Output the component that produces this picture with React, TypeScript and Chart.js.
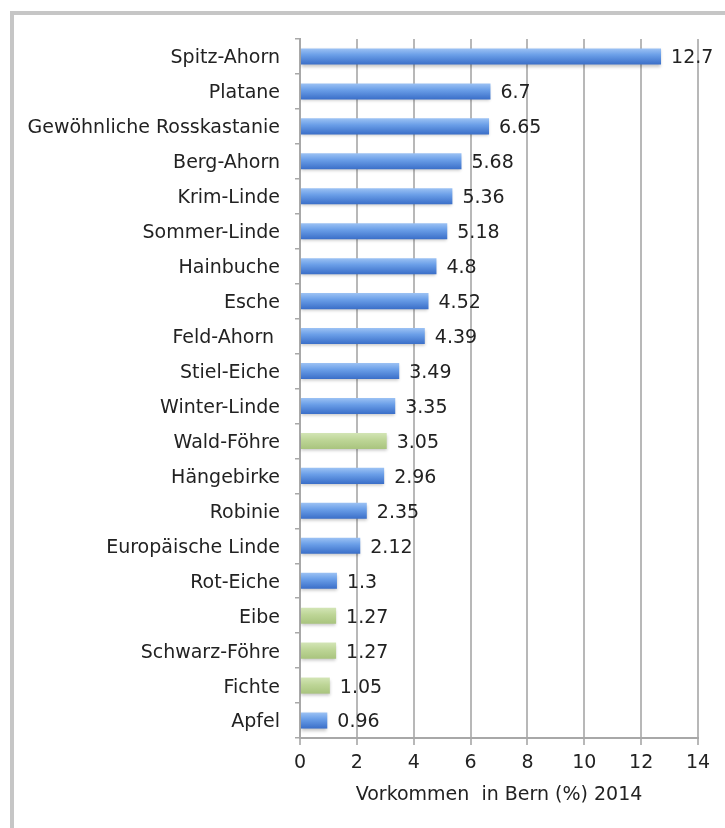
import React, { useEffect, useRef } from "react";
import { Chart, registerables } from "chart.js";

Chart.register(...registerables);

const categories = [
  "Spitz-Ahorn",
  "Platane",
  "Gewöhnliche Rosskastanie",
  "Berg-Ahorn",
  "Krim-Linde",
  "Sommer-Linde",
  "Hainbuche",
  "Esche",
  "Feld-Ahorn ",
  "Stiel-Eiche",
  "Winter-Linde",
  "Wald-Föhre",
  "Hängebirke",
  "Robinie",
  "Europäische Linde",
  "Rot-Eiche",
  "Eibe",
  "Schwarz-Föhre",
  "Fichte",
  "Apfel",
];

const values = [12.7, 6.7, 6.65, 5.68, 5.36, 5.18, 4.8, 4.52, 4.39, 3.49, 3.35, 3.05, 2.96, 2.35, 2.12, 1.3, 1.27, 1.27, 1.05, 0.96];

const valueLabels = ["12.7", "6.7", "6.65", "5.68", "5.36", "5.18", "4.8", "4.52", "4.39", "3.49", "3.35", "3.05", "2.96", "2.35", "2.12", "1.3", "1.27", "1.27", "1.05", "0.96"];

// "N" = Nadelbaum (green), "L" = Laubbaum (blue)
const treeType = ["L", "L", "L", "L", "L", "L", "L", "L", "L", "L", "L", "N", "L", "L", "L", "L", "N", "N", "N", "L"];

const xMin = 0;
const xMax = 14;
const xStep = 2;
const axisTitle = "Vorkommen  in Bern (%) 2014";

const FONT = "'DejaVu Sans', sans-serif";
const FSIZE = 19;
const TEXT = "#222222";
const BAR_PCT = 0.46;

const valueLabelPlugin = {
  id: "valueLabels",
  afterDatasetsDraw(chart: any) {
    const ctx = chart.ctx;
    const meta = chart.getDatasetMeta(0);
    ctx.save();
    ctx.font = `${FSIZE}px ${FONT}`;
    ctx.fillStyle = TEXT;
    ctx.textAlign = "left";
    ctx.textBaseline = "middle";
    meta.data.forEach((el: any, i: number) => {
      ctx.fillText(valueLabels[i], el.x + 10, el.y + 2);
    });
    ctx.restore();
  },
};

const shadowPlugin = {
  id: "barShadow",
  beforeDatasetDraw(chart: any) {
    const ctx = chart.ctx;
    ctx.save();
    ctx.shadowColor = "rgba(0,0,0,0.22)";
    ctx.shadowBlur = 3;
    ctx.shadowOffsetY = 2;
  },
  afterDatasetDraw(chart: any) {
    chart.ctx.restore();
  },
};

function barFill(c: any) {
  const isN = treeType[c.dataIndex] === "N";
  const flat = isN ? "#bcd595" : "#5b92e0";
  const chart = c.chart;
  const ys = chart.scales && chart.scales.y;
  if (!ys || c.type !== "data") return flat;
  const y = ys.getPixelForValue(c.dataIndex);
  const band = (ys.bottom - ys.top) / categories.length;
  const h = band * BAR_PCT;
  if (!isFinite(y) || !isFinite(h) || h <= 0) return flat;
  const g = chart.ctx.createLinearGradient(0, y - h / 2, 0, y + h / 2);
  if (isN) {
    g.addColorStop(0, "#d3e5b6");
    g.addColorStop(0.45, "#bdd596");
    g.addColorStop(1, "#a9c47e");
  } else {
    g.addColorStop(0, "#9cc2f4");
    g.addColorStop(0.4, "#6b9fe8");
    g.addColorStop(1, "#3a6ec8");
  }
  return g;
}

export default function App() {
  const ref = useRef<HTMLCanvasElement | null>(null);

  useEffect(() => {
    if (!ref.current) return;
    const chart = new Chart(ref.current, {
      type: "bar",
      data: {
        labels: categories,
        datasets: [
          {
            data: values,
            backgroundColor: barFill as any,
            borderWidth: 0,
            barPercentage: BAR_PCT,
            categoryPercentage: 1,
          },
        ],
      },
      options: {
        indexAxis: "y",
        animation: false,
        responsive: false,
        devicePixelRatio: 1,
        layout: { padding: { top: 39, right: 27, bottom: 0, left: 0 } },
        plugins: {
          legend: { display: false },
          tooltip: { enabled: false },
        },
        scales: {
          x: {
            min: xMin,
            max: xMax,
            ticks: { stepSize: xStep, color: TEXT, font: { size: FSIZE, family: FONT }, padding: 7 },
            grid: { color: "#b8b8b8", lineWidth: 2, tickLength: 7, drawTicks: true },
            border: { display: true, color: "#a8a8a8", width: 2 },
            title: {
              display: true,
              text: axisTitle,
              color: TEXT,
              font: { size: FSIZE, family: FONT },
              padding: { top: 4, bottom: 22 },
            },
            afterFit: (s: any) => {
              s.height = 90;
            },
          },
          y: {
            ticks: { color: TEXT, font: { size: FSIZE, family: FONT }, padding: 15, autoSkip: false, labelOffset: 2 },
            grid: { drawOnChartArea: false, drawTicks: true, tickLength: 5, color: "#a8a8a8", lineWidth: 1.5, offset: true },
            border: { display: true, color: "#a8a8a8", width: 2 },
            afterFit: (s: any) => {
              s.width = 300;
            },
          },
        },
      },
      plugins: [shadowPlugin, valueLabelPlugin],
    });
    return () => chart.destroy();
  }, []);

  return (
    <div style={{ position: "absolute", left: 0, top: 0, width: 725, height: 828, background: "#fff", overflow: "hidden" }}>
      <div
        style={{
          position: "absolute",
          left: 10,
          top: 11,
          right: -10,
          bottom: -10,
          borderTop: "4px solid #c6c6c6",
          borderLeft: "4px solid #c6c6c6",
        }}
      />
      <canvas ref={ref} width={725} height={828} style={{ position: "absolute", left: 0, top: 0, width: 725, height: 828 }} />
    </div>
  );
}
